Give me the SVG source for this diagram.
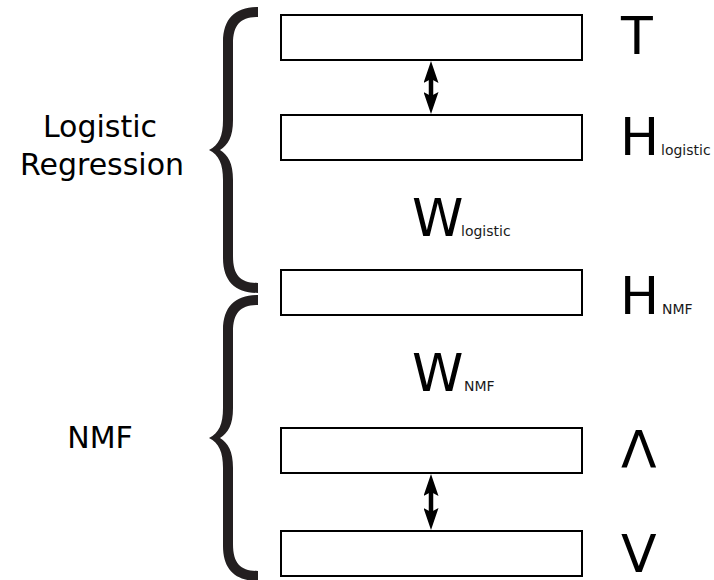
<svg xmlns="http://www.w3.org/2000/svg" xmlns:xlink="http://www.w3.org/1999/xlink" width="714" height="580" viewBox="0 0 714 580">
  <style>
    .box { fill: #ffffff; stroke: #000000; stroke-width: 2; }
    .brace { fill: #231f20; }
    .big { font-family: "DejaVu Sans", sans-serif; font-size: 52px; fill: #000000; }
    .sub { font-family: "DejaVu Sans", sans-serif; font-size: 14px; fill: #1a1a1a; }
    .label { font-family: "DejaVu Sans", sans-serif; font-size: 30px; fill: #000000; text-anchor: middle; }
    .shaft { stroke: #000000; stroke-width: 4.5; fill: none; marker-start: url(#head); marker-end: url(#head); }
  </style>
  <defs>
    <marker id="head" viewBox="0 0 22 15" refX="11" refY="7.5" markerWidth="22" markerHeight="15" markerUnits="userSpaceOnUse" orient="auto-start-reverse">
      <path d="M0,0 L22,7.5 L0,15 L4,7.5 Z" fill="#000000"/>
    </marker>
    <!-- curly brace, top end at y=8, tip at y=150 -->
    <path id="brace" class="brace" d="M258,7 C236,7 223,18 223,42 L223,120 C223,136 219,145 209,150 C219,155 223,164 223,180 L223,258 C223,282 236,293 258,293 L258,283 C241,283 233,276 233,256 L233,180 C233,163 228,155 220,150 C228,145 233,137 233,120 L233,44 C233,24 241,17 258,17 Z"/>
  </defs>

  <rect width="714" height="580" fill="#ffffff"/>

  <!-- group braces and their labels -->
  <g id="logistic-regression">
    <use xlink:href="#brace"/>
    <text class="label" x="100" y="137">Logistic</text>
    <text class="label" x="102" y="175">Regression</text>
  </g>
  <g id="nmf">
    <use xlink:href="#brace" transform="translate(0,288)"/>
    <text class="label" x="100" y="448">NMF</text>
  </g>

  <!-- layers -->
  <g id="layer-T">
    <rect class="box" x="281" y="15" width="301" height="45"/>
    <text class="big" x="621" y="54">T</text>
  </g>
  <g id="layer-H-logistic">
    <rect class="box" x="281" y="115" width="301" height="45"/>
    <text class="big" x="620" y="155">H<tspan class="sub" x="661" dy="0">logistic</tspan></text>
  </g>
  <g id="weights-logistic">
    <text class="big" x="412" y="236">W<tspan class="sub" x="461" dy="0">logistic</tspan></text>
  </g>
  <g id="layer-H-NMF">
    <rect class="box" x="281" y="270" width="301" height="45"/>
    <text class="big" x="620" y="314">H<tspan class="sub" x="662" dy="0">NMF</tspan></text>
  </g>
  <g id="weights-NMF">
    <text class="big" x="412" y="391">W<tspan class="sub" x="464" dy="0">NMF</tspan></text>
  </g>
  <g id="layer-Lambda">
    <rect class="box" x="281" y="428" width="301" height="45"/>
    <text class="big" x="621" y="468">Λ</text>
  </g>
  <g id="layer-V">
    <rect class="box" x="281" y="531" width="301" height="45"/>
    <text class="big" x="621" y="572">V</text>
  </g>

  <!-- connectors -->
  <g id="connectors">
    <path class="shaft" d="M431,72 L431,103"/>
    <path class="shaft" d="M431,485 L431,519"/>
  </g>
</svg>
